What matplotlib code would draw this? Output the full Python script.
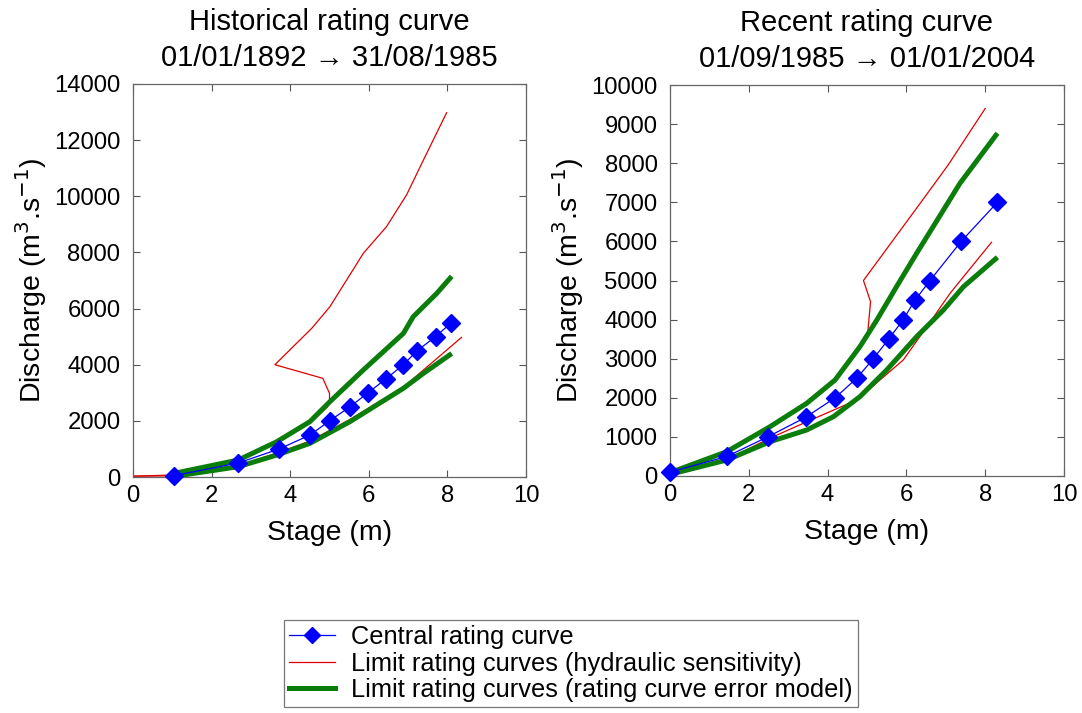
import matplotlib
matplotlib.use("Agg")
import matplotlib.pyplot as plt
from matplotlib.lines import Line2D

plt.rcParams['font.family'] = ['Liberation Sans', 'DejaVu Sans']

# ---------------- Data: historical (left) ----------------
hist_central_x = [1.05, 2.68, 3.72, 4.51, 5.0, 5.52, 5.98, 6.44, 6.88, 7.23, 7.70, 8.10]
hist_central_y = [50, 500, 1000, 1500, 2000, 2500, 3000, 3500, 4000, 4500, 5000, 5500]

hist_hyd_up_x = [0.0, 1.05, 2.68, 3.66, 4.50, 4.95, 5.0, 5.0, 4.83, 3.61, 4.55, 5.01, 5.86, 6.45, 6.96, 7.39, 7.98]
hist_hyd_up_y = [30, 71, 605, 1199, 1911, 2500, 2683, 2980, 3515, 4000, 5300, 6066, 7967, 8917, 10045, 11292, 12977]

hist_hyd_lo_x = [0.0, 1.05, 2.68, 3.66, 4.50, 5.52, 6.88, 7.39, 8.36]
hist_hyd_lo_y = [30, 40, 400, 850, 1280, 2050, 3200, 3811, 4975]

hist_err_up_x = [1.05, 2.68, 3.66, 4.50, 5.01, 5.86, 6.88, 7.13, 7.73, 8.11]
hist_err_up_y = [131, 605, 1258, 1971, 2683, 3811, 5117, 5710, 6543, 7150]

hist_err_lo_x = [1.05, 2.68, 3.66, 4.50, 5.52, 6.88, 7.39, 8.11]
hist_err_lo_y = [24, 368, 784, 1199, 1971, 3159, 3692, 4400]

# ---------------- Data: recent (right) ----------------
rec_central_x = [0.0, 1.44, 2.48, 3.44, 4.19, 4.74, 5.16, 5.55, 5.92, 6.22, 6.60, 7.39, 8.31]
rec_central_y = [100, 500, 1000, 1500, 2000, 2500, 3000, 3500, 4000, 4500, 5000, 6000, 7000]

rec_hyd_up_x = [0.0, 1.44, 2.54, 3.38, 4.19, 4.82, 5.01, 5.09, 4.91, 6.35, 7.06, 8.00]
rec_hyd_up_y = [100, 597, 1262, 1774, 2456, 3300, 3564, 4459, 5000, 6975, 7955, 9400]

rec_hyd_lo_x = [0.0, 1.44, 2.50, 3.50, 4.74, 5.92, 6.52, 7.11, 7.45, 8.16]
rec_hyd_lo_y = [50, 420, 950, 1400, 1944, 2967, 3820, 4673, 5098, 5977]

rec_err_up_x = [0.0, 1.44, 2.54, 3.47, 4.19, 4.82, 5.25, 5.75, 6.26, 6.68, 7.36, 8.31]
rec_err_up_y = [85, 622, 1262, 1859, 2456, 3308, 3990, 4843, 5696, 6378, 7487, 8766]

rec_err_lo_x = [0.0, 1.44, 2.54, 3.47, 4.15, 4.82, 5.50, 6.26, 6.94, 7.45, 8.31]
rec_err_lo_y = [43, 409, 878, 1177, 1518, 2029, 2711, 3564, 4246, 4843, 5594]

titles = ["Historical rating curve\n01/01/1892 \u2192 31/08/1985",
          "Recent rating curve\n01/09/1985 \u2192 01/01/2004"]
xlabel = "Stage (m)"
ylabel = "Discharge (m$^{3}$.s$^{-1}$)"
legend_labels = ["Central rating curve",
                 "Limit rating curves (hydraulic sensitivity)",
                 "Limit rating curves (rating curve error model)"]
x_ticks = [0, 2, 4, 6, 8, 10]
hist_y_ticks = list(range(0, 14001, 2000))
rec_y_ticks = list(range(0, 10001, 1000))

BLUE = '#0000ff'
RED = '#e00000'
GREEN = '#0a7d0a'

W, H = 1082, 713
fig = plt.figure(figsize=(W / 100, H / 100), dpi=100)

ax1 = fig.add_axes([133 / W, 1 - 477 / H, 393 / W, 393 / H])
ax2 = fig.add_axes([670 / W, 1 - 476 / H, 394 / W, 391 / H])

def draw(ax, cx, cy, hux, huy, hlx, hly, eux, euy, elx, ely):
    ax.plot(hux, huy, color=RED, lw=0.9, zorder=2)
    ax.plot(hlx, hly, color=RED, lw=0.9, zorder=2)
    ax.plot(eux, euy, color=GREEN, lw=3.6, zorder=3, solid_capstyle='butt')
    ax.plot(elx, ely, color=GREEN, lw=3.6, zorder=3, solid_capstyle='butt')
    ax.plot(cx, cy, color=BLUE, lw=0.9, marker='D', markersize=9,
            markerfacecolor=BLUE, markeredgecolor=BLUE, zorder=4, clip_on=False)

draw(ax1, hist_central_x, hist_central_y, hist_hyd_up_x, hist_hyd_up_y,
     hist_hyd_lo_x, hist_hyd_lo_y, hist_err_up_x, hist_err_up_y,
     hist_err_lo_x, hist_err_lo_y)
draw(ax2, rec_central_x, rec_central_y, rec_hyd_up_x, rec_hyd_up_y,
     rec_hyd_lo_x, rec_hyd_lo_y, rec_err_up_x, rec_err_up_y,
     rec_err_lo_x, rec_err_lo_y)

for ax, title, yt in [(ax1, titles[0], hist_y_ticks), (ax2, titles[1], rec_y_ticks)]:
    ax.set_xlim(0, 10)
    ax.set_ylim(yt[0], yt[-1])
    ax.set_xticks(x_ticks)
    ax.set_yticks(yt)
    ax.tick_params(direction='in', length=5, width=0.8, color='#555555',
                   labelsize=17.2, top=True, right=True)
    ax.tick_params(axis='x', pad=6)
    ax.tick_params(axis='y', pad=9)
    for s in ax.spines.values():
        s.set_color('#666666')
        s.set_linewidth(0.9)
    ax.set_title(title, fontsize=21, pad=13, linespacing=1.35)
    ax.set_xlabel(xlabel, fontsize=20.5, labelpad=9)
    ax.set_ylabel(ylabel, fontsize=20.5, labelpad=4)

handles = [
    Line2D([], [], color=BLUE, lw=0.9, marker='D', markersize=8,
           markerfacecolor=BLUE, markeredgecolor=BLUE),
    Line2D([], [], color=RED, lw=0.9),
    Line2D([], [], color=GREEN, lw=3.6),
]
leg = fig.legend(handles, legend_labels, loc='upper left',
                 bbox_to_anchor=(284 / W, 1 - 620 / H),
                 fontsize=18.3, frameon=True, fancybox=False,
                 edgecolor='#555555', handlelength=1.8, handletextpad=0.65,
                 labelspacing=0.1, borderpad=0.2, borderaxespad=0)
leg.get_frame().set_linewidth(0.9)

fig.savefig('out.png', dpi=100)
